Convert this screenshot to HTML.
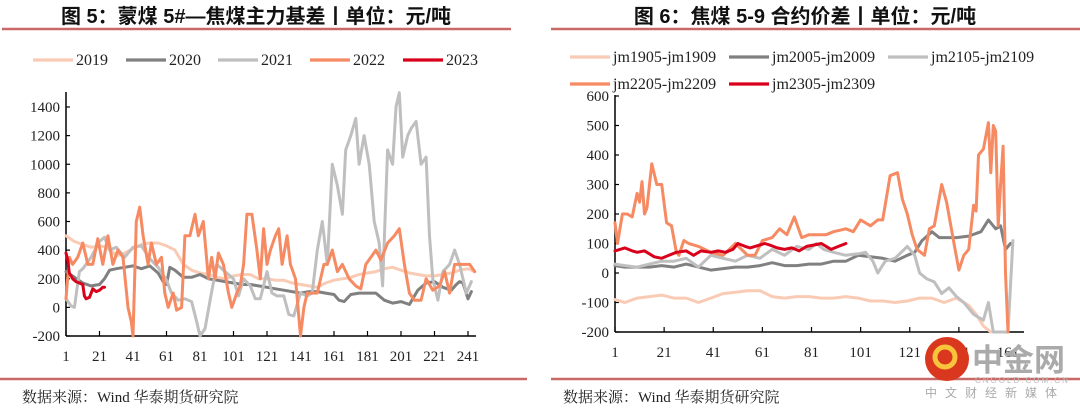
<!DOCTYPE html>
<html><head><meta charset="utf-8">
<style>
html,body{margin:0;padding:0;background:#fff;}
body{width:1080px;height:411px;overflow:hidden;position:relative;}
svg{position:absolute;left:0;top:0;}
.t{font-family:"Liberation Serif","Noto Serif CJK SC",serif;font-size:15px;fill:#222;}
.lg{font-family:"Liberation Serif","Noto Serif CJK SC",serif;font-size:16px;fill:#222;}
.title{font-family:"Liberation Sans","Noto Sans CJK SC",sans-serif;font-size:20px;font-weight:bold;fill:#111;}
.src{font-family:"Liberation Serif","Noto Serif CJK SC",serif;font-size:15px;fill:#222;}
</style></head>
<body>
<svg id="s" width="1080" height="411">
  <text class="title" x="256" y="23" text-anchor="middle">图 5：蒙煤 5#—焦煤主力基差丨单位：元/吨</text>
  <line x1="2" y1="29" x2="511" y2="29" stroke="#c0504d" stroke-width="2.5" opacity="0.85"/>
  <text class="title" x="805" y="23" text-anchor="middle">图 6：焦煤 5-9 合约价差丨单位：元/吨</text>
  <line x1="551" y1="29" x2="1080" y2="29" stroke="#c0504d" stroke-width="2.5" opacity="0.85"/>
  <line x1="0" y1="379" x2="527" y2="379" stroke="#c0504d" stroke-width="2.5" opacity="0.85"/>
  <line x1="551" y1="379" x2="1080" y2="379" stroke="#c0504d" stroke-width="2.5" opacity="0.85"/>
  <text class="src" x="22" y="402">数据来源：Wind 华泰期货研究院</text>
  <text class="src" x="563" y="402">数据来源：Wind 华泰期货研究院</text>
  <g id="L"></g>
  <g id="R"></g>
  <g>
    <circle cx="947" cy="359" r="22" fill="#d9381e"/>
    <circle cx="945" cy="357" r="10" fill="none" stroke="#f7c43b" stroke-width="5"/>
    <text x="972" y="371" font-family="Noto Sans CJK SC,sans-serif" font-size="31" font-weight="bold" fill="#aaa">中金网</text>
    <text x="975" y="383" font-family="Liberation Sans,sans-serif" font-size="8" fill="#bbb" letter-spacing="2">CNGOLD.COM.CN</text>
    <text x="925" y="397" font-family="Noto Sans CJK SC,sans-serif" font-size="12" fill="#aaa" letter-spacing="8">中文财经新媒体</text>
  </g>
</svg>
<script>
// ---------- Left chart data ----------
const leftTicksY=[-200,0,200,400,600,800,1000,1200,1400];
const leftTicksX=[1,21,41,61,81,101,121,141,161,181,201,221,241];
const d19=[1,6,11,16,21,26,31,36,41,46,51,56,61,66,71,76,81,86,91,96,101,106,111,116,121,126,131,136,141,146,151,156,161,166,171,176,181,186,191,196,201,206,211,216,221,226,231,236,241,245];
const v19=[500,460,440,420,430,420,360,380,410,440,450,450,430,400,300,260,240,230,210,200,220,230,230,200,200,190,190,170,160,150,140,170,190,200,210,230,240,250,270,280,260,240,230,220,220,230,240,260,270,250];
const d20=[1,6,11,16,21,24,27,31,36,41,46,51,56,59,61,63,66,71,76,81,86,91,96,101,106,111,116,121,126,131,136,141,146,151,156,161,164,167,171,176,181,186,191,196,201,206,211,216,221,226,231,234,236,238,241,243];
const v20=[250,210,170,150,160,200,260,270,280,290,270,290,240,180,160,280,260,210,210,230,200,190,180,170,160,160,150,140,130,120,110,100,110,110,100,90,50,40,90,100,100,100,50,30,40,20,120,170,180,140,120,160,180,170,60,110];
const d21=[1,4,6,9,11,16,21,24,27,31,36,41,46,51,56,61,64,68,72,76,79,81,84,87,91,96,101,104,107,111,114,117,121,124,127,131,134,137,141,145,148,151,154,157,160,163,166,168,171,174,176,179,182,185,188,190,193,196,198,200,202,205,207,210,213,216,218,220,223,226,230,233,236,240,243];
const v21=[60,10,0,250,270,350,460,490,400,420,350,420,430,340,280,190,100,50,60,40,-100,-200,-150,50,300,250,200,80,200,150,60,60,250,100,80,80,-50,-60,100,80,100,400,600,300,1000,850,650,1100,1200,1320,1000,1200,1000,600,450,150,1100,1000,1400,1500,1050,1200,1250,1300,1000,1050,500,200,50,250,300,400,300,100,180];
const d22=[1,3,5,8,11,14,17,20,23,26,29,32,35,38,40,41,43,45,47,50,52,55,58,60,62,65,67,70,72,75,78,80,83,86,88,90,92,95,98,100,103,105,107,109,112,115,117,119,121,123,126,128,130,133,135,138,141,143,145,148,151,155,157,160,163,166,170,174,177,180,183,186,189,193,197,200,203,206,209,213,216,220,224,227,230,233,236,239,242,245];
const v22=[60,350,300,350,450,300,300,480,300,500,300,400,350,0,-100,-200,600,700,500,300,450,300,350,100,0,100,-20,0,500,500,650,500,600,200,350,200,380,300,100,0,100,150,300,650,650,400,200,550,300,400,500,550,300,500,300,200,-200,0,100,100,100,300,300,400,250,300,200,150,130,300,350,400,330,450,500,550,300,100,50,50,200,120,150,250,100,300,300,300,300,250];
const d23=[1,2,3,5,7,9,11,12,13,15,17,19,21,23,24];
const v23=[380,330,240,200,180,170,160,80,60,70,130,110,120,140,140];

// ---------- Right chart data ----------
const rightTicksY=[-200,-100,0,100,200,300,400,500,600];
const rightTicksX=[1,21,41,61,81,101,121,141,161];
const e19=[1,5,10,15,20,25,30,35,40,45,50,55,60,65,70,75,80,85,90,95,100,105,110,115,120,125,130,135,140,145,148,151,154];
const w19=[-90,-100,-85,-80,-75,-85,-85,-100,-85,-70,-65,-60,-60,-80,-85,-80,-80,-85,-85,-80,-85,-95,-95,-100,-95,-85,-85,-100,-85,-110,-140,-180,-200];
const e20=[1,5,10,15,20,25,30,35,40,45,50,55,60,65,70,75,80,85,90,95,100,105,110,115,120,123,126,130,133,137,140,145,150,153,156,158,160,162];
const w20=[25,20,20,20,25,20,30,20,10,15,20,20,25,35,25,25,30,30,40,40,60,55,50,40,60,70,110,140,120,120,120,125,140,180,150,160,80,100];
const e21=[1,5,10,15,20,25,30,35,40,45,50,55,60,65,70,75,80,83,86,90,95,100,103,106,108,111,115,120,123,125,128,131,134,137,140,143,147,149,151,153,155,157,159,161,163];
const w21=[30,25,20,30,40,40,50,20,60,50,40,60,50,80,60,90,80,100,80,70,60,65,70,40,0,40,50,90,60,0,-20,-30,-70,-50,-80,-100,-140,-150,-160,-100,-200,-200,-200,-200,110];
const e22=[1,2,4,6,8,10,11,12,13,14,16,18,20,22,24,26,27,29,31,35,40,45,50,55,58,61,65,68,71,74,77,80,83,87,90,95,98,101,105,108,110,113,116,118,120,122,124,127,129,131,134,136,139,141,143,145,147,148,149,151,153,154,155,156,157,158,159,160,161];
const w22=[170,100,200,200,190,270,240,310,200,220,370,300,300,170,160,70,60,110,100,90,70,60,100,60,60,110,120,150,130,190,120,130,130,130,140,150,140,180,160,180,180,330,340,250,200,130,80,60,150,160,300,240,100,10,60,80,230,210,400,420,510,340,500,480,160,300,430,0,-200];
const e23=[1,3,5,8,10,13,15,17,20,23,26,30,33,36,40,43,46,49,51,54,56,58,60,62,64,67,70,73,76,79,82,85,87,89,92,95];
const w23=[75,80,85,75,70,75,65,55,50,60,70,75,60,75,70,75,70,80,100,90,85,90,95,100,95,85,80,85,75,90,95,100,90,80,90,100];

const NS='http://www.w3.org/2000/svg';
function mk(parent,tag,attrs){const e=document.createElementNS(NS,tag);for(const k in attrs)e.setAttribute(k,attrs[k]);parent.appendChild(e);return e;}

function drawAxes(g,cfg){
  const xa=mk(g,'line',{x1:cfg.x0,y1:cfg.y(cfg.yt[0]),x2:cfg.x0,y2:cfg.yTop,stroke:'#000','stroke-width':1.5});
  
  
  const ba=mk(g,'line',{x1:cfg.x0,y1:cfg.y(cfg.yt[0]),x2:cfg.xEnd,y2:cfg.y(cfg.yt[0]),stroke:'#000','stroke-width':1.5});
  
  
  cfg.yt.forEach(v=>{
    const tk=mk(g,'line',{x1:cfg.x0,y1:cfg.y(v),x2:cfg.x0+4,y2:cfg.y(v),stroke:'#000','stroke-width':1.2});
    
    
    const t=mk(g,'text',{x:cfg.x0-6,y:cfg.y(v)+5,'text-anchor':'end',class:'t'});
    t.textContent=v;
    
    
  });
  cfg.xt.forEach(v=>{
    const tk=mk(g,'line',{x1:cfg.x(v),y1:cfg.y(cfg.yt[0]),x2:cfg.x(v),y2:cfg.y(cfg.yt[0])-5,stroke:'#000','stroke-width':1.2});
    
    
    const t=mk(g,'text',{x:cfg.x(v),y:cfg.labY,'text-anchor':'middle',class:'t'});
    t.textContent=v;
    
    
  });
}
function drawLine(g,cfg,ds,vs,color,name){
  const lo=cfg.yt[0],hi=cfg.yt[cfg.yt.length-1]+100;
  const pts=ds.map((d,i)=>cfg.x(d).toFixed(1)+','+cfg.y(Math.max(lo,Math.min(hi,vs[i]))).toFixed(1)).join(' ');
  const p=mk(g,'polyline',{points:pts,fill:'none',stroke:color,'stroke-width':3,'stroke-linejoin':'round','stroke-linecap':'round'});
  
  
}
function legend(g,x,y,color,label,name){
  const l=mk(g,'line',{x1:x,y1:y,x2:x+40,y2:y,stroke:color,'stroke-width':3.2});
  
  
  const t=mk(g,'text',{x:x+43,y:y+5,class:'lg'});
  t.textContent=label;
  
  
}
const C19='#f9cbb5',C20='#808080',C21='#bfbfbf',C22='#f68a62',C23='#d9001b';

// left
const L=document.getElementById('L');
const lcfg={x0:66,xEnd:476,yTop:92,labY:361,yt:leftTicksY,xt:leftTicksX,
  x:d=>66+(d-1)*(469-67)/240, y:v=>336-(v+200)*229/1600};
drawAxes(L,lcfg);
drawLine(L,lcfg,d19,v19,C19,'line-2019');
drawLine(L,lcfg,d20,v20,C20,'line-2020');
drawLine(L,lcfg,d21,v21,C21,'line-2021');
drawLine(L,lcfg,d22,v22,C22,'line-2022');
drawLine(L,lcfg,d23,v23,C23,'line-2023');
legend(L,33,60,C19,'2019','legend-2019');
legend(L,126,60,C20,'2020','legend-2020');
legend(L,218,60,C21,'2021','legend-2021');
legend(L,310,60,C22,'2022','legend-2022');
legend(L,403,60,C23,'2023','legend-2023');

// right
const R=document.getElementById('R');
const rcfg={x0:615,xEnd:1024,yTop:95,labY:357,yt:rightTicksY,xt:rightTicksX,
  x:d=>615+(d-1)*(1008-615)/160, y:v=>332-(v+200)*236/800};
drawAxes(R,rcfg);
drawLine(R,rcfg,e19,w19,C19,'line-jm1905-jm1909');
drawLine(R,rcfg,e20,w20,C20,'line-jm2005-jm2009');
drawLine(R,rcfg,e21,w21,C21,'line-jm2105-jm2109');
drawLine(R,rcfg,e22,w22,C22,'line-jm2205-jm2209');
drawLine(R,rcfg,e23,w23,C23,'line-jm2305-jm2309');
legend(R,570,57,C19,'jm1905-jm1909','legend-jm1905');
legend(R,729,57,C20,'jm2005-jm2009','legend-jm2005');
legend(R,888,57,C21,'jm2105-jm2109','legend-jm2105');
legend(R,570,84,C22,'jm2205-jm2209','legend-jm2205');
legend(R,729,84,C23,'jm2305-jm2309','legend-jm2305');
</script>
</body></html>
